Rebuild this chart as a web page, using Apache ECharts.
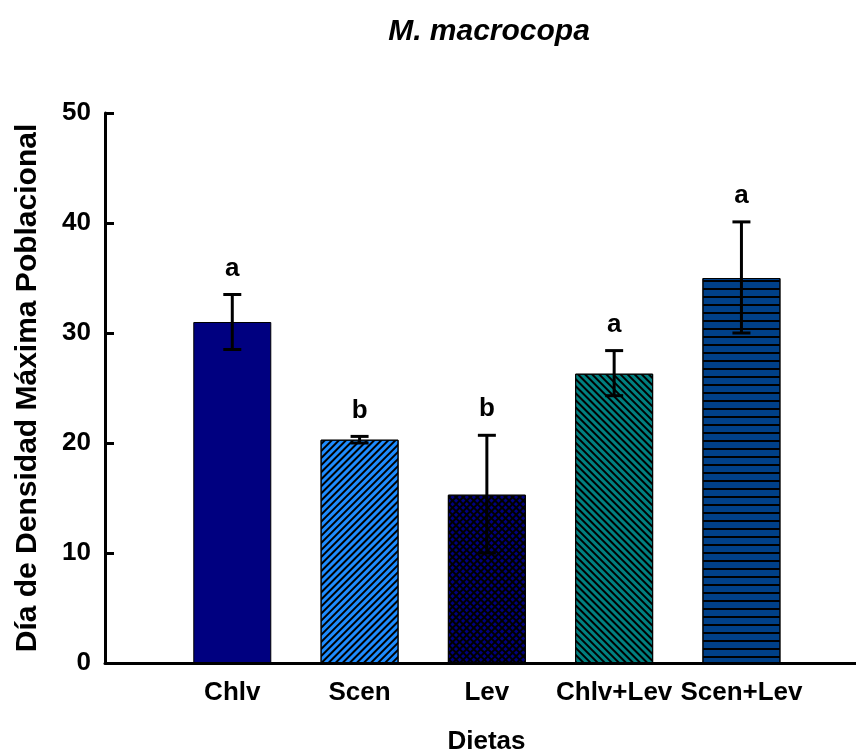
<!DOCTYPE html>
<html>
<head>
<meta charset="utf-8">
<script src="https://cdn.jsdelivr.net/npm/echarts@6/dist/echarts.min.js"></script>
<style>html,body{margin:0;padding:0;background:#fff;}#c{width:856px;height:754px;}</style>
</head>
<body>
<div id="c"></div>
<script>
var categories = ['Chlv', 'Scen', 'Lev', 'Chlv+Lev', 'Scen+Lev'];
var means = [31.0, 20.3, 15.3, 26.3, 35.0];
var errLow = [28.5, 20.0, 10.0, 24.3, 30.0];
var errHigh = [33.5, 20.6, 20.7, 28.4, 40.1];
var letters = ['a', 'b', 'b', 'a', 'a'];
var yTicks = [0, 10, 20, 30, 40, 50];

var FONT = 'Liberation Sans, Arial, sans-serif';
var styles = [
  { color: '#000080', decal: null },
  { color: '#1E8CFF', decal: { symbol: 'rect', symbolSize: 1, color: '#000', dashArrayX: [1, 0], dashArrayY: [1.5, 2.5], rotation: -Math.PI / 4 } },
  { color: '#000', decal: { symbol: 'rect', symbolSize: 1, color: '#000080', dashArrayX: [2.6, 1.1], dashArrayY: [2.6, 1.1], rotation: Math.PI / 4 } },
  { color: '#008080', decal: { symbol: 'rect', symbolSize: 1, color: '#000', dashArrayX: [1, 0], dashArrayY: [1.5, 2.5], rotation: Math.PI / 4 } },
  { color: '#004088', decal: { symbol: 'rect', symbolSize: 1, color: '#000', dashArrayX: [1, 0], dashArrayY: [2, 5.7], rotation: 0 } }
];

var barData = means.map(function (v, i) {
  var it = { color: styles[i].color, borderColor: '#000', borderWidth: 1 };
  if (styles[i].decal) it.decal = styles[i].decal;
  return { value: [i + 1, v], itemStyle: it };
});
var errData = means.map(function (v, i) { return [i + 1, errLow[i], errHigh[i], i]; });

var chart = echarts.init(document.getElementById('c'), null, { renderer: 'canvas' });
chart.setOption({
  backgroundColor: '#fff',
  animation: false,
  title: {
    text: 'M. macrocopa', left: 484, top: 12, textAlign: 'center',
    textStyle: { fontFamily: FONT, fontSize: 30, fontWeight: 'bold', fontStyle: 'italic', color: '#000' }
  },
  grid: { left: 105, right: 0, top: 113, bottom: 91, containLabel: false, outerBoundsMode: 'none' },
  xAxis: {
    type: 'value', min: 0, max: 5.9, interval: 1,
    name: 'Dietas', nameLocation: 'middle', nameGap: 66,
    nameTextStyle: { fontFamily: FONT, fontSize: 26, fontWeight: 'bold', color: '#000', padding: [0, 0, 0, 12] },
    axisLine: { show: true, onZero: false, lineStyle: { color: '#000', width: 3 } },
    axisTick: { show: false },
    splitLine: { show: false },
    axisLabel: {
      margin: 17, fontFamily: FONT, fontSize: 26, fontWeight: 'bold', color: '#000',
      showMinLabel: true, showMaxLabel: false,
      formatter: function (v) { return (Number.isInteger(v) && v >= 1 && v <= categories.length) ? categories[v - 1] : ''; }
    }
  },
  yAxis: {
    type: 'value', min: yTicks[0], max: yTicks[yTicks.length - 1], interval: 10,
    name: 'Día de Densidad Máxima Poblacional', nameLocation: 'middle', nameGap: 62,
    nameTextStyle: { fontFamily: FONT, fontSize: 30, fontWeight: 'bold', color: '#000' },
    axisLine: { show: true, lineStyle: { color: '#000', width: 3 } },
    axisTick: { show: true, inside: true, length: 9, lineStyle: { color: '#000', width: 3 } },
    splitLine: { show: false },
    axisLabel: { margin: 14, fontFamily: FONT, fontSize: 26, fontWeight: 'bold', color: '#000' }
  },
  series: [
    { type: 'bar', data: barData, barWidth: 78, z: 2 },
    {
      type: 'custom', z: 5, data: errData,
      renderItem: function (params, api) {
        var x = api.value(0), lo = api.value(1), hi = api.value(2), idx = api.value(3);
        var pHi = api.coord([x, hi]), pLo = api.coord([x, lo]);
        var hw = 9;
        var st = { stroke: '#000', lineWidth: 3 };
        return {
          type: 'group',
          children: [
            { type: 'line', shape: { x1: pHi[0], y1: pHi[1], x2: pLo[0], y2: pLo[1] }, style: st },
            { type: 'line', shape: { x1: pHi[0] - hw, y1: pHi[1], x2: pHi[0] + hw, y2: pHi[1] }, style: st },
            { type: 'line', shape: { x1: pLo[0] - hw, y1: pLo[1], x2: pLo[0] + hw, y2: pLo[1] }, style: st },
            { type: 'text', x: pHi[0], y: pHi[1] - 26,
              style: { text: letters[idx], fontFamily: FONT, fontSize: 26, fontWeight: 'bold', fill: '#000', align: 'center', verticalAlign: 'middle' } }
          ]
        };
      }
    }
  ]
});
</script>
</body>
</html>
